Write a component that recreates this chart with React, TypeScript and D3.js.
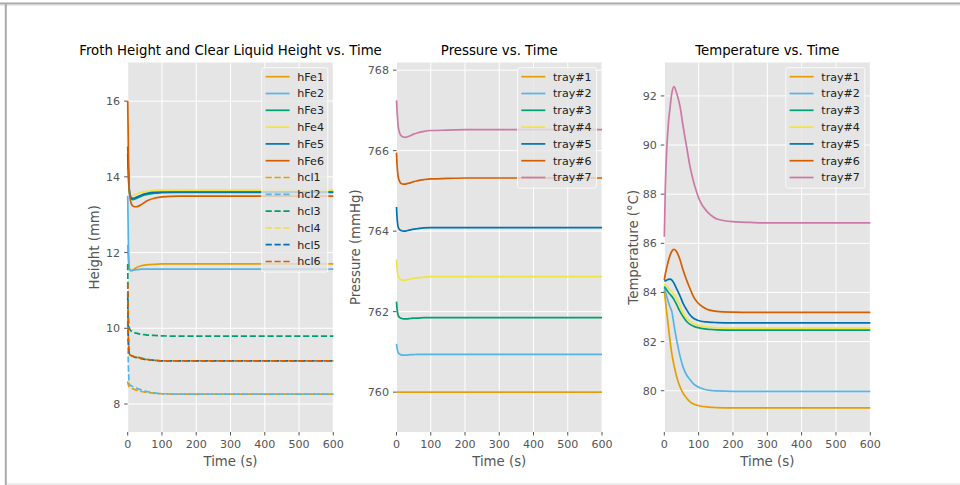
import React from "react";
import * as d3 from "d3";

const COLORS = ["#E69F00", "#56B4E9", "#009E73", "#F0E442", "#0072B2", "#D55E00", "#CC79A7"];

const T = [0, 2, 5, 10, 15, 20, 25, 30, 40, 50, 60, 80, 100, 150, 200, 300, 400, 500, 600];

const hFe1 = [12.2, 11.8, 11.56, 11.52, 11.54, 11.57, 11.6, 11.62, 11.65, 11.67, 11.68, 11.69, 11.7, 11.7, 11.7, 11.7, 11.7, 11.7, 11.7];
const hFe2 = [13.5, 12.3, 11.58, 11.52, 11.53, 11.54, 11.55, 11.55, 11.56, 11.56, 11.56, 11.56, 11.56, 11.56, 11.56, 11.56, 11.56, 11.56, 11.56];
const hFe3 = [14.8, 14.1, 13.6, 13.42, 13.4, 13.41, 13.43, 13.45, 13.49, 13.52, 13.54, 13.57, 13.58, 13.59, 13.59, 13.59, 13.59, 13.59, 13.59];
const hFe4 = [14.2, 13.9, 13.6, 13.5, 13.5, 13.52, 13.54, 13.56, 13.59, 13.61, 13.62, 13.64, 13.65, 13.65, 13.65, 13.65, 13.65, 13.65, 13.65];
const hFe5 = [14.6, 14.1, 13.62, 13.45, 13.43, 13.44, 13.46, 13.48, 13.52, 13.55, 13.57, 13.59, 13.6, 13.6, 13.6, 13.6, 13.6, 13.6, 13.6];
const hFe6 = [16.0, 14.7, 13.6, 13.3, 13.23, 13.21, 13.21, 13.22, 13.27, 13.33, 13.38, 13.44, 13.47, 13.49, 13.49, 13.49, 13.49, 13.49, 13.49];
const hcl1 = [8.6, 8.5, 8.45, 8.42, 8.4, 8.38, 8.37, 8.35, 8.33, 8.31, 8.3, 8.28, 8.27, 8.26, 8.26, 8.26, 8.26, 8.26, 8.26];
const hcl2 = [10.2, 9.0, 8.52, 8.48, 8.46, 8.44, 8.42, 8.4, 8.37, 8.34, 8.32, 8.29, 8.27, 8.26, 8.26, 8.26, 8.26, 8.26, 8.26];
const hcl3 = [11.7, 10.3, 10.0, 9.93, 9.9, 9.88, 9.87, 9.86, 9.84, 9.83, 9.82, 9.81, 9.8, 9.79, 9.79, 9.79, 9.79, 9.79, 9.79];
const hcl4 = [10.6, 9.6, 9.3, 9.27, 9.25, 9.24, 9.23, 9.22, 9.2, 9.18, 9.17, 9.15, 9.14, 9.14, 9.14, 9.14, 9.14, 9.14, 9.14];
const hcl5 = [10.9, 9.7, 9.31, 9.28, 9.26, 9.24, 9.23, 9.22, 9.2, 9.18, 9.17, 9.15, 9.14, 9.14, 9.14, 9.14, 9.14, 9.14, 9.14];
const hcl6 = [11.2, 9.8, 9.32, 9.28, 9.26, 9.25, 9.24, 9.23, 9.21, 9.19, 9.17, 9.15, 9.14, 9.14, 9.14, 9.14, 9.14, 9.14, 9.14];

const p1 = [760, 760, 760, 760, 760, 760, 760, 760, 760, 760, 760, 760, 760, 760, 760, 760, 760, 760, 760];
const p2 = [761.2, 761.08, 760.98, 760.94, 760.92, 760.92, 760.92, 760.92, 760.93, 760.93, 760.94, 760.94, 760.94, 760.94, 760.94, 760.94, 760.94, 760.94, 760.94];
const p3 = [762.25, 762.05, 761.9, 761.85, 761.83, 761.82, 761.82, 761.82, 761.83, 761.84, 761.84, 761.85, 761.85, 761.85, 761.85, 761.85, 761.85, 761.85, 761.85];
const p4 = [763.3, 763.05, 762.88, 762.81, 762.79, 762.78, 762.78, 762.79, 762.81, 762.83, 762.84, 762.86, 762.87, 762.87, 762.87, 762.87, 762.87, 762.87, 762.87];
const p5 = [764.6, 764.3, 764.1, 764.03, 764.01, 764.0, 764.0, 764.01, 764.03, 764.05, 764.06, 764.08, 764.09, 764.09, 764.09, 764.09, 764.09, 764.09, 764.09];
const p6 = [765.95, 765.6, 765.35, 765.22, 765.18, 765.17, 765.17, 765.18, 765.2, 765.23, 765.25, 765.28, 765.3, 765.31, 765.32, 765.32, 765.32, 765.32, 765.32];
const p7 = [767.25, 766.95, 766.6, 766.42, 766.36, 766.34, 766.33, 766.34, 766.37, 766.41, 766.44, 766.48, 766.5, 766.51, 766.52, 766.52, 766.52, 766.52, 766.52];

const T3 = [0, 3, 7, 12, 17, 22, 28, 36, 46, 55, 65, 75, 85, 95, 104, 124, 143, 153, 200, 250, 300, 400, 500, 600];
const t1 = [84.1, 83.7, 83.2, 82.6, 82.0, 81.5, 81.05, 80.57, 80.15, 79.89, 79.7, 79.55, 79.46, 79.41, 79.38, 79.34, 79.32, 79.31, 79.3, 79.3, 79.3, 79.3, 79.3, 79.3];
const t2 = [84.2, 84.05, 83.85, 83.6, 83.4, 83.22, 82.7, 82.06, 81.4, 80.95, 80.64, 80.45, 80.28, 80.18, 80.12, 80.03, 80.0, 79.99, 79.97, 79.97, 79.97, 79.97, 79.97, 79.97];
const t3 = [84.25, 84.18, 84.1, 84.0, 83.92, 83.84, 83.72, 83.5, 83.22, 83.01, 82.82, 82.7, 82.63, 82.58, 82.55, 82.51, 82.49, 82.48, 82.47, 82.47, 82.47, 82.47, 82.47, 82.47];
const t4 = [84.36, 84.3, 84.25, 84.18, 84.1, 84.03, 83.93, 83.75, 83.45, 83.15, 82.95, 82.82, 82.74, 82.68, 82.64, 82.59, 82.57, 82.56, 82.55, 82.55, 82.55, 82.55, 82.55, 82.55];
const t5 = [84.45, 84.48, 84.5, 84.53, 84.54, 84.5, 84.38, 84.15, 83.85, 83.55, 83.3, 83.08, 82.95, 82.88, 82.84, 82.8, 82.78, 82.77, 82.76, 82.76, 82.76, 82.76, 82.76, 82.76];
const t6 = [84.5, 84.75, 85.0, 85.3, 85.52, 85.68, 85.75, 85.66, 85.32, 84.9, 84.5, 84.15, 83.83, 83.62, 83.49, 83.32, 83.25, 83.23, 83.2, 83.19, 83.19, 83.19, 83.19, 83.19];
const t7 = [86.27, 88.3, 89.8, 90.89, 91.56, 92.11, 92.38, 92.11, 91.56, 90.75, 89.93, 89.12, 88.52, 88.05, 87.72, 87.3, 87.07, 86.99, 86.88, 86.85, 86.83, 86.83, 86.83, 86.83];

const heightLabels = ["hFe1", "hFe2", "hFe3", "hFe4", "hFe5", "hFe6", "hcl1", "hcl2", "hcl3", "hcl4", "hcl5", "hcl6"];
const trayLabels = ["tray#1", "tray#2", "tray#3", "tray#4", "tray#5", "tray#6", "tray#7"];
const xTicks = [0, 100, 200, 300, 400, 500, 600];
const heightTicks = [8, 10, 12, 14, 16];
const pressureTicks = [760, 762, 764, 766, 768];
const tempTicks = [80, 82, 84, 86, 88, 90, 92];

type Series = { label: string; t: number[]; v: number[]; color: string; dashed: boolean };

const FONT = "DejaVu Sans, sans-serif";
const TOP = 62.5;
const BOTTOM = 432;

function Panel(props: {
  left: number; right: number; yDomain: [number, number]; yTicks: number[];
  title: string; ylabel: string; ylabelX: number; series: Series[]; legendWidth: number;
}) {
  const { left, right, yDomain, yTicks, title, ylabel, ylabelX, series, legendWidth } = props;
  const x = d3.scaleLinear().domain([0, 600]).range([left, right]);
  const y = d3.scaleLinear().domain(yDomain).range([BOTTOM, TOP]);
  const line = (s: Series) =>
    d3.line<number>().x((_, i) => x(s.t[i])).y((d) => y(d)).curve(d3.curveMonotoneX)(s.v) || "";
  const rowH = 16.8;
  const lx = right - 5.5 - legendWidth;
  const ly = TOP + 5.2;
  const lh = series.length * rowH + 2.8;
  const cx = (left + right) / 2;
  return (
    <g>
      <rect x={left} y={TOP} width={right - left} height={BOTTOM - TOP} fill="#E5E5E5" />
      {xTicks.map((t) => (
        <line key={"gx" + t} x1={x(t)} x2={x(t)} y1={TOP} y2={BOTTOM} stroke="#fff" strokeWidth={1} />
      ))}
      {yTicks.map((t) => (
        <line key={"gy" + t} x1={left} x2={right} y1={y(t)} y2={y(t)} stroke="#fff" strokeWidth={1} />
      ))}
      {series.map((s) => (
        <path key={s.label} d={line(s)} fill="none" stroke={s.color} strokeWidth={1.7}
          strokeDasharray={s.dashed ? "6.2,2.7" : undefined} />
      ))}
      {xTicks.map((t) => (
        <g key={"xt" + t}>
          <line x1={x(t)} x2={x(t)} y1={BOTTOM} y2={BOTTOM + 3.5} stroke="#555" strokeWidth={1} />
          <text x={x(t)} y={BOTTOM + 16} textAnchor="middle" fontSize={11.1} fill="#555" fontFamily={FONT}>{t}</text>
        </g>
      ))}
      {yTicks.map((t) => (
        <g key={"yt" + t}>
          <line x1={left - 3.5} x2={left} y1={y(t)} y2={y(t)} stroke="#555" strokeWidth={1} />
          <text x={left - 7.5} y={y(t)} dy="0.36em" textAnchor="end" fontSize={11.1} fill="#555" fontFamily={FONT}>{t}</text>
        </g>
      ))}
      <text x={cx} y={55} textAnchor="middle" fontSize={13.3} fill="#000" fontFamily={FONT}>{title}</text>
      <text x={cx} y={466} textAnchor="middle" fontSize={13.3} fill="#555" fontFamily={FONT}>Time (s)</text>
      <text transform={`translate(${ylabelX},${(TOP + BOTTOM) / 2}) rotate(-90)`} textAnchor="middle" dy="0.36em"
        fontSize={13.3} fill="#555" fontFamily={FONT}>{ylabel}</text>
      <rect x={lx} y={ly} width={legendWidth} height={lh} rx={2.2} fill="#E5E5E5" fillOpacity={0.8}
        stroke="#fff" strokeOpacity={0.8} strokeWidth={1} />
      {series.map((s, i) => {
        const ry = ly + 9 + i * rowH;
        return (
          <g key={"lg" + s.label}>
            <line x1={lx + 3.8} x2={lx + 27.8} y1={ry} y2={ry} stroke={s.color} strokeWidth={1.7}
              strokeDasharray={s.dashed ? "6.2,2.7" : undefined} />
            <text x={lx + 35.5} y={ry} dy="0.36em" fontSize={11.1} fill="#222" fontFamily={FONT}>{s.label}</text>
          </g>
        );
      })}
    </g>
  );
}

export default function App() {
  const hVals = [hFe1, hFe2, hFe3, hFe4, hFe5, hFe6, hcl1, hcl2, hcl3, hcl4, hcl5, hcl6];
  const hSeries: Series[] = hVals.map((v, i) => ({
    label: heightLabels[i], t: T, v, color: COLORS[i % 6], dashed: i >= 6,
  }));
  const pVals = [p1, p2, p3, p4, p5, p6, p7];
  const pSeries: Series[] = pVals.map((v, i) => ({ label: trayLabels[i], t: T, v, color: COLORS[i], dashed: false }));
  const tVals = [t1, t2, t3, t4, t5, t6, t7];
  const tSeries: Series[] = tVals.map((v, i) => ({ label: trayLabels[i], t: T3, v, color: COLORS[i], dashed: false }));

  return (
    <svg width={960} height={485} style={{ position: "absolute", left: 0, top: 0, background: "#fff" }}>
      <rect x={0} y={0} width={960} height={485} fill="#fff" />
      <rect x={0} y={2.5} width={960} height={2} fill="#aaaaaa" />
      <rect x={0} y={4.5} width={960} height={1} fill="#d8d8d8" />
      <rect x={4.8} y={3} width={2} height={482} fill="#aaaaaa" />
      <rect x={6.8} y={483.5} width={954} height={1.2} fill="#e0e0e0" />
      <Panel left={127.7} right={333.3} yDomain={[7.26, 17.02]} yTicks={heightTicks}
        title="Froth Height and Clear Liquid Height vs. Time" ylabel="Height (mm)" ylabelX={94.5}
        series={hSeries} legendWidth={66} />
      <Panel left={396.5} right={602} yDomain={[759.01, 768.19]} yTicks={pressureTicks}
        title="Pressure vs. Time" ylabel="Pressure (mmHg)" ylabelX={355}
        series={pSeries} legendWidth={79} />
      <Panel left={664.3} right={870.3} yDomain={[78.32, 93.36]} yTicks={tempTicks}
        title="Temperature vs. Time" ylabel="Temperature (°C)" ylabelX={633}
        series={tSeries} legendWidth={79} />
    </svg>
  );
}
